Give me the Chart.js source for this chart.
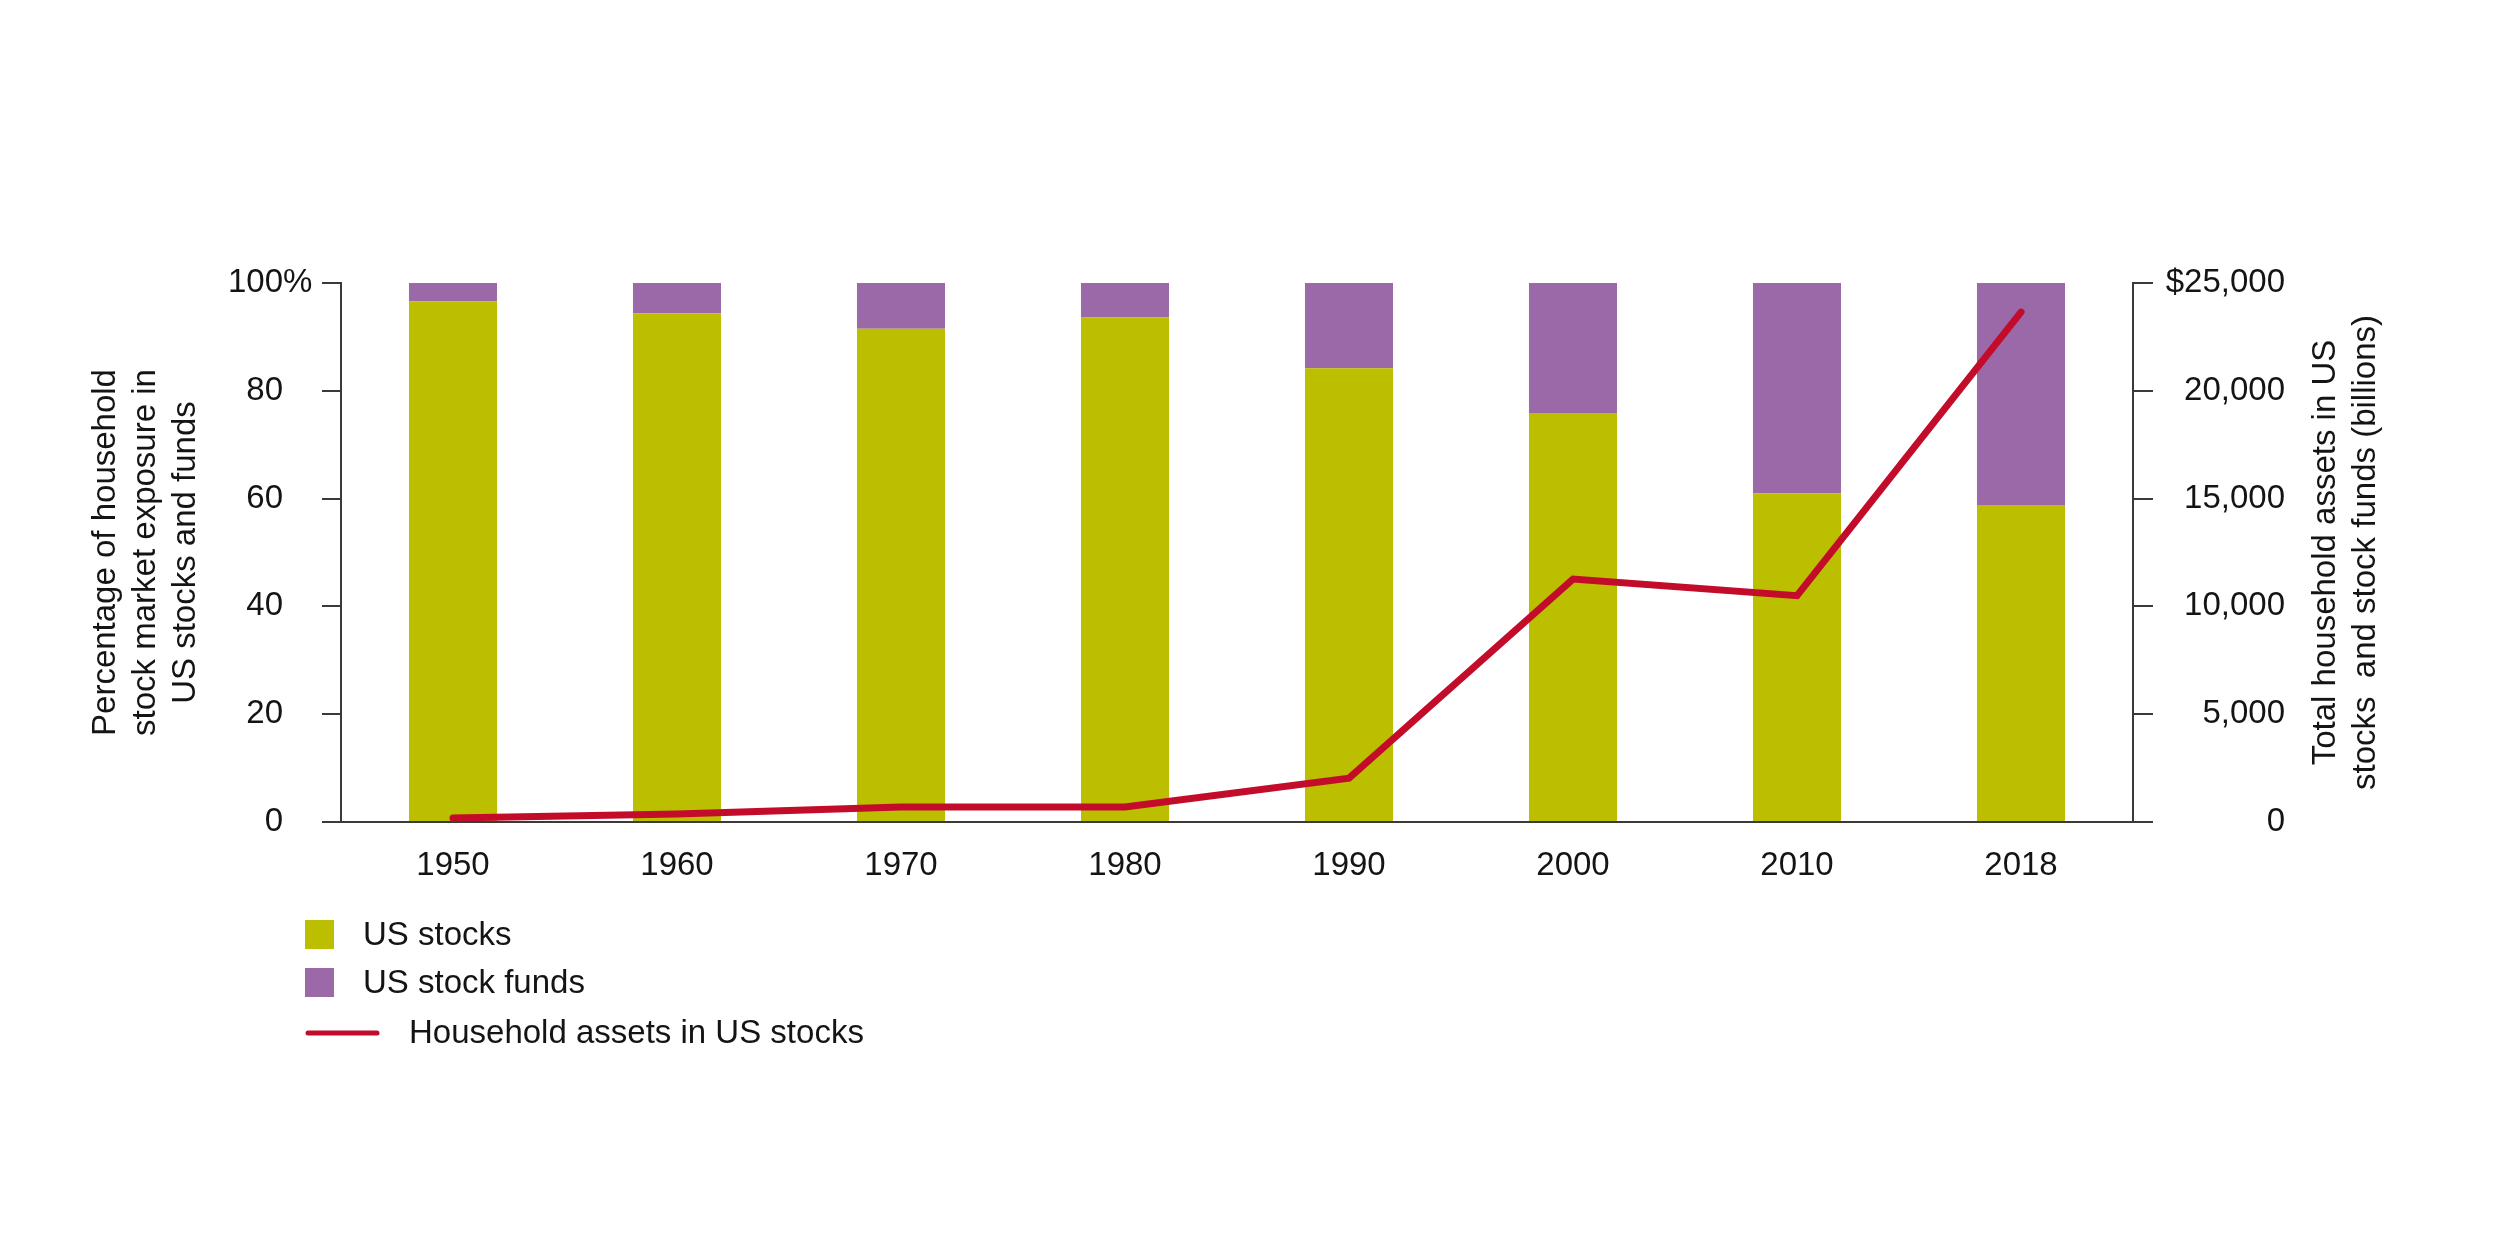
<!DOCTYPE html>
<html>
<head>
<meta charset="utf-8">
<style>
  html, body { margin: 0; padding: 0; background: #fff; }
  #wrap { width: 2501px; height: 1251px; }
</style>
</head>
<body>
<div id="wrap">
  <canvas id="myChart" width="2501" height="1251"></canvas>
</div>

<script src="https://cdn.jsdelivr.net/npm/chart.js"></script>

<script>
  // data
  const years = ['1950', '1960', '1970', '1980', '1990', '2000', '2010', '2018'];
  const usStocks = [96.6, 94.4, 91.5, 93.6, 84.2, 75.9, 61.0, 58.8];
  const usStockFunds = [3.4, 5.6, 8.5, 6.4, 15.8, 24.1, 39.0, 41.2];
  const householdAssets = [180, 370, 690, 700, 2030, 11270, 10500, 23650];
  const pctTicks = [0, 20, 40, 60, 80, 100];
  const dollarTicks = [0, 5000, 10000, 15000, 20000, 25000];

  const seriesNames = ['US stocks', 'US stock funds', 'Household assets in US stocks'];
  const leftTitle = ['Percentage of household', 'stock market exposure in', 'US stocks and funds'];
  const rightTitle = ['Total household assets in US', 'stocks  and stock funds (billions)'];

  const GREEN = '#bcbe00';
  const PURPLE = '#9c69a8';
  const RED = '#c20c2a';
  const AXIS = '#3a3a3a';
  const TEXT = '#141414';
  const FONT = '"Liberation Sans", Arial, sans-serif';

  Chart.defaults.font.family = FONT;
  Chart.defaults.font.size = 33;
  Chart.defaults.color = TEXT;

  function drawRotated(ctx, lines, xs, cy) {
    lines.forEach((t, i) => {
      ctx.save();
      ctx.translate(xs[i], cy);
      ctx.rotate(-Math.PI / 2);
      ctx.textAlign = 'center';
      ctx.textBaseline = 'middle';
      ctx.fillText(t, 0, 0);
      ctx.restore();
    });
  }

  // titles, % sign and the legend
  const extras = {
    id: 'extras',
    afterDraw(chart) {
      const ctx = chart.ctx;
      const area = chart.chartArea;
      const midY = (area.top + area.bottom) / 2;
      ctx.save();
      ctx.fillStyle = TEXT;
      ctx.font = '33px ' + FONT;

      ctx.textAlign = 'left';
      ctx.textBaseline = 'middle';
      ctx.fillText('%', 283, chart.scales.y.getPixelForValue(100));

      drawRotated(ctx, leftTitle, [106, 146, 186], midY);
      drawRotated(ctx, rightTitle, [2326, 2366], midY);

      // legend
      const ds = chart.data.datasets;
      ctx.fillStyle = ds[0].backgroundColor;
      ctx.fillRect(305, 920, 29, 29);
      ctx.fillStyle = ds[1].backgroundColor;
      ctx.fillRect(305, 968, 29, 29);
      ctx.strokeStyle = ds[2].borderColor;
      ctx.lineWidth = 5;
      ctx.lineCap = 'round';
      ctx.beginPath();
      ctx.moveTo(308, 1033);
      ctx.lineTo(377, 1033);
      ctx.stroke();

      ctx.fillStyle = TEXT;
      ctx.textAlign = 'left';
      ctx.textBaseline = 'middle';
      ctx.fillText(ds[0].label, 363, 936);
      ctx.fillText(ds[1].label, 363, 984);
      ctx.fillText(ds[2].label, 409, 1034);
      ctx.restore();
    }
  };

  const ctx = document.getElementById('myChart');

  const chart = new Chart(ctx, {
    data: {
      labels: years,
      datasets: [
        {
          type: 'bar',
          label: seriesNames[0],
          data: usStocks,
          backgroundColor: GREEN,
          yAxisID: 'y',
          stack: 's',
          order: 2,
          barPercentage: 0.393,
          categoryPercentage: 1
        },
        {
          type: 'bar',
          label: seriesNames[1],
          data: usStockFunds,
          backgroundColor: PURPLE,
          yAxisID: 'y',
          stack: 's',
          order: 2,
          barPercentage: 0.393,
          categoryPercentage: 1
        },
        {
          type: 'line',
          label: seriesNames[2],
          data: householdAssets,
          borderColor: RED,
          backgroundColor: RED,
          borderWidth: 7,
          borderCapStyle: 'round',
          borderJoinStyle: 'miter',
          pointRadius: 0,
          tension: 0,
          yAxisID: 'y1',
          order: 1
        }
      ]
    },
    options: {
      responsive: false,
      devicePixelRatio: 1,
      animation: false,
      layout: { padding: { left: 0, right: 216, top: 283, bottom: 369 } },
      plugins: {
        legend: { display: false },
        tooltip: { enabled: false }
      },
      scales: {
        x: {
          stacked: true,
          offset: true,
          grid: { display: false },
          border: { display: true, color: AXIS, width: 2 },
          ticks: { padding: 16, color: TEXT },
          afterFit: s => { s.height = 60; }
        },
        y: {
          position: 'left',
          stacked: true,
          min: 0,
          max: 100,
          afterBuildTicks: s => { s.ticks = pctTicks.map(v => ({ value: v })); },
          grid: { drawOnChartArea: false, drawTicks: true, tickLength: 19, color: AXIS, lineWidth: 2 },
          border: { display: true, color: AXIS, width: 2 },
          ticks: { padding: 39, color: TEXT, callback: v => String(v) },
          afterFit: s => { s.width = 341; }
        },
        y1: {
          position: 'right',
          min: 0,
          max: 25000,
          afterBuildTicks: s => { s.ticks = dollarTicks.map(v => ({ value: v })); },
          grid: { drawOnChartArea: false, drawTicks: true, tickLength: 20, color: AXIS, lineWidth: 2 },
          border: { display: true, color: AXIS, width: 2 },
          ticks: {
            padding: 10,
            color: TEXT,
            crossAlign: 'far',
            callback: v => (v === 25000 ? '$' : '') + v.toLocaleString('en-US')
          },
          afterFit: s => { s.width = 152; }
        }
      }
    },
    plugins: [extras]
  });
</script>
</body>
</html>
